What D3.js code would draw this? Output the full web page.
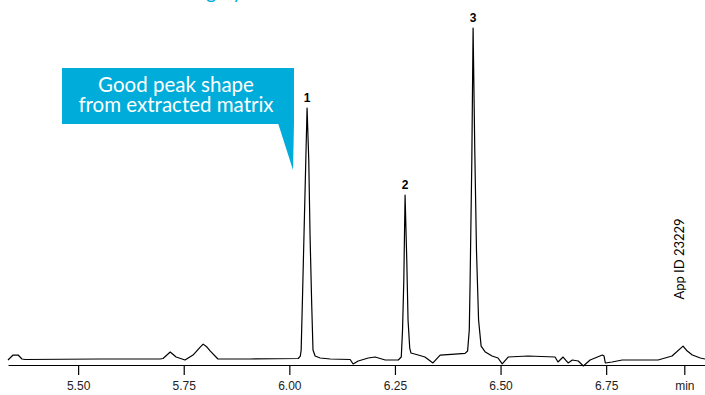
<!DOCTYPE html>
<html>
<head>
<meta charset="utf-8">
<script src="https://cdn.jsdelivr.net/npm/d3@7"></script>
<style>
  body { margin: 0; background: #fff; }
  svg { display: block; }
</style>
</head>
<body>
<div id="chart"></div>
<script>
// retention time (min) and detector response (% of largest peak)
const times = [5.334, 5.346, 5.358, 5.367, 5.375, 5.552, 5.694, 5.701, 5.718, 5.732, 5.753, 5.772,
  5.789, 5.796, 5.805, 5.813, 5.831, 5.907, 6.021, 6.026, 6.028, 6.031, 6.035, 6.039, 6.042,
  6.046, 6.049, 6.053, 6.056, 6.061, 6.073, 6.097, 6.144, 6.151, 6.163, 6.187, 6.203, 6.227,
  6.258, 6.265, 6.268, 6.271, 6.274, 6.278, 6.281, 6.285, 6.288, 6.305, 6.321, 6.340, 6.357,
  6.392, 6.416, 6.422, 6.426, 6.428, 6.432, 6.435, 6.439, 6.443, 6.448, 6.454, 6.464, 6.480,
  6.494, 6.504, 6.518, 6.565, 6.629, 6.636, 6.648, 6.660, 6.670, 6.684, 6.696, 6.712, 6.741,
  6.745, 6.748, 6.764, 6.788, 6.873, 6.906, 6.932, 6.942, 6.954, 6.973, 6.984];
const response = [-0.3, 1.2, 1.2, 0, -0.15, 0, 0, 0.15, 2.1, 0.6, -0.3, 1.2,
  3.6, 4.5, 3.6, 2.4, 0, 0, 0.15, 0.9, 2.7, 17.8, 39.0, 60.1, 75.8,
  60.1, 37.5, 16.3, 2.7, 0.9, 0.3, 0, -0.15, -1.5, -0.6, 0.3, 0.6, -0.3,
  -0.3, 0.6, 8.8, 23.9, 49.5, 29.9, 11.8, 3.3, 1.8, 1.2, 0.6, -1.2, 1.2,
  1.5, 1.7, 2.4, 8.8, 23.9, 60.1, 100, 63.1, 32.9, 11.8, 3.9, 2.1, 0.9,
  0.3, -1.5, 0.6, 0.9, 0.6, -0.9, 0.6, -1.2, -0.3, -0.6, -2.1, -0.3, 1.2,
  0.9, -1.2, -0.9, -0.3, -0.3, 0.9, 3.9, 2.4, 1.2, 0.3, 0];

const peakLabels = ["1", "2", "3"];
const peakTimes = [6.042, 6.274, 6.435];
const peakHeights = [75.8, 49.5, 100];

const tickValues = [5.50, 5.75, 6.00, 6.25, 6.50, 6.75, 6.935];
const tickLabels = ["5.50", "5.75", "6.00", "6.25", "6.50", "6.75", "min"];

const calloutLines = ["Good peak shape", "from extracted matrix"];
const appId = "App ID 23229";

const width = 705, height = 395;
const cyan = "#00acd9";

const svg = d3.select("#chart").append("svg")
    .attr("width", width)
    .attr("height", height);

const x = d3.scaleLinear().domain([5.334, 6.984]).range([8, 705]);
const y = d3.scaleLinear().domain([0, 100]).range([359, 28]);

// heading above the chart, cropped so only descenders show
svg.append("text")
    .attr("x", 190)
    .attr("y", -1)
    .attr("fill", cyan)
    .style("font-family", "Lato, sans-serif")
    .style("font-size", "20px")
    .text("highly");

// x axis
const xAxis = d3.axisBottom(x)
    .tickValues(tickValues)
    .tickFormat((d, i) => tickLabels[i])
    .tickSizeInner(10)
    .tickSizeOuter(0)
    .tickPadding(6);

const gx = svg.append("g")
    .attr("transform", "translate(0,365)")
    .call(xAxis);
gx.select(".domain").attr("stroke", "#000").attr("stroke-width", 1.2);
gx.selectAll(".tick line").attr("stroke", "#000").attr("stroke-width", 1.2);
gx.selectAll(".tick text")
    .attr("fill", "#222")
    .style("font-family", "Liberation Sans, Arial, sans-serif")
    .style("font-size", "12px");

// trace
const data = times.map((t, i) => ({ t: t, v: response[i] }));
const line = d3.line()
    .x(d => x(d.t))
    .y(d => y(d.v));

svg.append("path")
    .datum(data)
    .attr("d", line)
    .attr("fill", "none")
    .attr("stroke", "#000")
    .attr("stroke-width", 1.2)
    .attr("stroke-linejoin", "round");

// peak numbers
svg.selectAll(".peak-label")
    .data(peakLabels)
    .enter().append("text")
    .attr("class", "peak-label")
    .attr("x", (d, i) => x(peakTimes[i]))
    .attr("y", (d, i) => y(peakHeights[i]) - 6)
    .attr("text-anchor", "middle")
    .attr("fill", "#000")
    .style("font-family", "Liberation Sans, Arial, sans-serif")
    .style("font-size", "12px")
    .style("font-weight", "bold")
    .text(d => d);

// callout
const callout = svg.append("g");
callout.append("rect")
    .attr("x", 62).attr("y", 68)
    .attr("width", 232).attr("height", 56)
    .attr("fill", cyan);
callout.append("path")
    .attr("d", "M278,123 L294,123 L293,170 Z")
    .attr("fill", cyan);
callout.selectAll("text")
    .data(calloutLines)
    .enter().append("text")
    .attr("x", 176)
    .attr("y", (d, i) => 92 + i * 20)
    .attr("text-anchor", "middle")
    .attr("fill", "#fff")
    .style("font-family", "Lato, sans-serif")
    .style("font-size", "20.5px")
    .text(d => d);

// app id, rotated
svg.append("text")
    .attr("transform", "translate(684,259) rotate(-90)")
    .attr("text-anchor", "middle")
    .attr("fill", "#000")
    .style("font-family", "Lato, sans-serif")
    .style("font-size", "13px")
    .text(appId);
</script>
</body>
</html>
